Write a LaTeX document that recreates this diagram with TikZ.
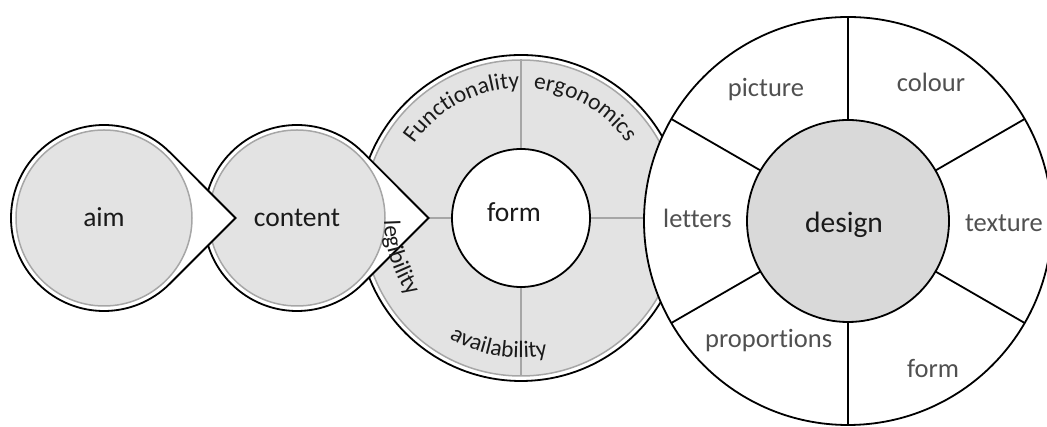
\documentclass[tikz,border=0pt]{standalone}
\usepackage{fontspec}
\setmainfont{Carlito}[Ligatures=NoCommon]
\usetikzlibrary{calc,decorations.text}
\definecolor{ringfill}{HTML}{E3E3E3}
\definecolor{designfill}{HTML}{D9D9D9}
\definecolor{ringline}{HTML}{A6A6A6}
\definecolor{labgray}{HTML}{505050}
\definecolor{txt}{HTML}{1A1A1A}
\newcommand\crvfont{\fontsize{23.5}{24}\selectfont}
\begin{document}
\begin{tikzpicture}[x=1pt,y=1pt,
  outline/.style={draw=black,line width=1.8pt,fill=white},
  innerdisc/.style={circle,draw=ringline,line width=1.5pt,fill=ringfill,inner sep=0pt,minimum size=#1},
  graydiv/.style={draw=ringline,line width=1.5pt},
  blackdiv/.style={draw=black,line width=1.8pt},
  mainlab/.style={anchor=base,text=txt,font=\fontsize{27.5}{30}\selectfont,inner sep=0pt},
  ringlab/.style={anchor=base,text=labgray,font=\fontsize{26.5}{30}\selectfont,inner sep=0pt},
  curved/.style={decorate,decoration={text along path,text align=center,text color=txt,text={|\crvfont|#1}}}
]
\clip (0,0) rectangle (1047,427);
\coordinate (A) at (104,209);
\coordinate (C) at (297,209);
\coordinate (F) at (521,209);
\coordinate (D) at (848,206);

% form ring
\draw[outline] (F) circle[radius=163pt];
\fill[ringfill] (F) circle[radius=158pt];
\draw[ringline,line width=1.5pt] (F) circle[radius=158pt];
\foreach \a in {0,90,180,270} \draw[graydiv] ($(F)+(\a:69pt)$) -- ($(F)+(\a:158pt)$);
\node[circle,draw=black,line width=1.8pt,fill=white,minimum size=138pt,inner sep=0pt] (formc) at (F) {};
\node[mainlab] (formt) at (514,205) {form};
\path[curved=Functionality] ($(F)+(160:130pt)$) arc[start angle=160,end angle=76,radius=130pt];
\path[curved=ergonomics] ($(F)+(100:130pt)$) arc[start angle=100,end angle=20,radius=130pt];
\path[curved=availability] ($(F)+(220:140pt)$) arc[start angle=220,end angle=300,radius=140pt];

% content teardrop
\draw[outline] ($(C)+(131.5,0)$) -- ($(C)+(45:93pt)$) arc[start angle=45,end angle=315,radius=93pt] -- cycle;
\node[innerdisc=176pt] (contentc) at (C) {};
\node[mainlab] (contentt) at (297,200) {content};

% aim teardrop
\draw[outline] ($(A)+(131.5,0)$) -- ($(A)+(45:93pt)$) arc[start angle=45,end angle=315,radius=93pt] -- cycle;
\node[innerdisc=176pt] (aimc) at (A) {};
\node[mainlab] (aimt) at (104,200) {aim};

\path[curved=legibility] ($(F)+(170:137pt)$) arc[start angle=170,end angle=226,radius=137pt];

% design
\node[circle,outline,minimum size=408pt,inner sep=0pt] (designo) at (D) {};
\foreach \a in {30,90,150,210,270,330} \draw[blackdiv] ($(D)+(\a:101pt)$) -- ($(D)+(\a:204pt)$);
\node[circle,draw=black,line width=1.8pt,fill=designfill,minimum size=202pt,inner sep=0pt] (designc) at (D) {};
\node[mainlab,font=\fontsize{29.5}{32}\selectfont] (designt) at (844,194) {design};
\node[ringlab] (picture) at (766,330) {picture};
\node[ringlab] (colour) at (931,335) {colour};
\node[ringlab] (letters) at (697.5,199) {letters};
\node[ringlab] (texture) at (1004,195) {texture};
\node[ringlab] (proportions) at (768.7,79) {proportions};
\node[ringlab] (dform) at (933,49) {form};
\end{tikzpicture}
\end{document}
